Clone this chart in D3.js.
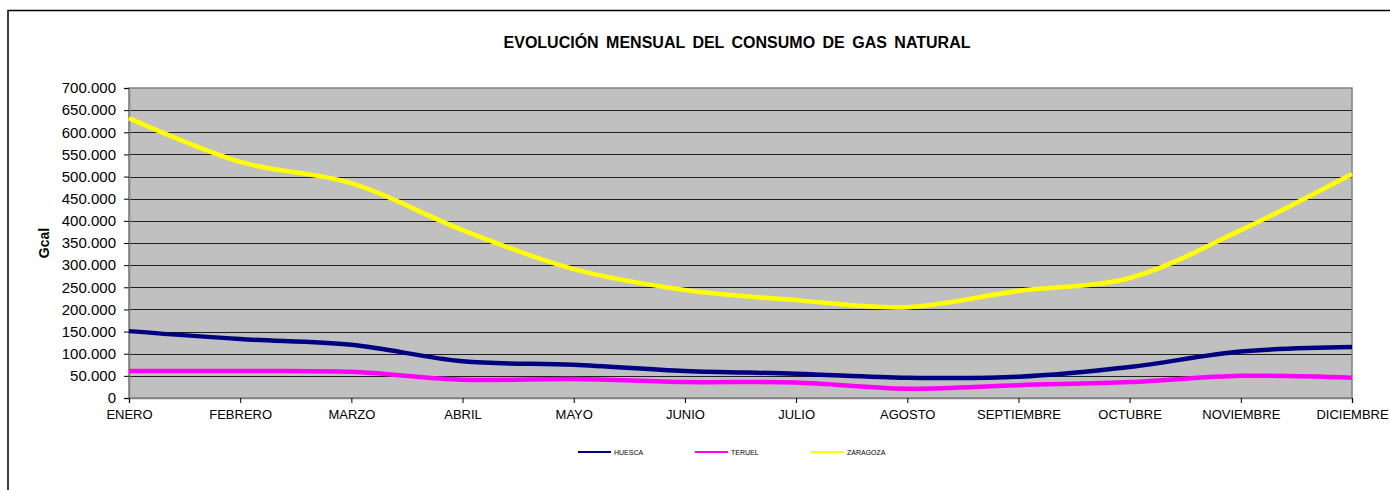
<!DOCTYPE html>
<html>
<head>
<meta charset="utf-8">
<script src="https://cdn.jsdelivr.net/npm/d3@7"></script>
<style>
  body { margin: 0; background: #fff; }
  text { font-family: "Liberation Sans", Arial, sans-serif; }
</style>
</head>
<body>
<div class="chart"></div>
<script>
// Data
var months = ["ENERO", "FEBRERO", "MARZO", "ABRIL", "MAYO", "JUNIO", "JULIO",
  "AGOSTO", "SEPTIEMBRE", "OCTUBRE", "NOVIEMBRE", "DICIEMBRE"];
var huesca = [151000, 133000, 120000, 83000, 75000, 61000, 55000, 46000, 48000, 70000, 105000, 115000];
var teruel = [61000, 61000, 59000, 41000, 43000, 36000, 35000, 21000, 29000, 36000, 50000, 46000];
var zaragoza = [632000, 533000, 485000, 379000, 291000, 244000, 221000, 205000, 242000, 271000, 379000, 506000];
var seriesNames = ["HUESCA", "TERUEL", "ZARAGOZA"];
var yTicks = [0, 50000, 100000, 150000, 200000, 250000, 300000, 350000, 400000, 450000, 500000, 550000, 600000, 650000, 700000];

var colors = ["#000080", "#ff00ff", "#ffff00"];
var allSeries = [huesca, teruel, zaragoza];

var svgWidth = 1390;
var svgHeight = 490;
var margin = { top: 88, right: 38, bottom: 92, left: 129 };
var width = svgWidth - margin.left - margin.right;
var height = svgHeight - margin.top - margin.bottom;

var svg = d3.select(".chart")
  .append("svg")
  .attr("width", svgWidth)
  .attr("height", svgHeight);

// outer frame (clipped at right and bottom)
svg.append("rect")
  .attr("x", 8).attr("y", 10.5)
  .attr("width", 1400).attr("height", 500)
  .attr("fill", "none")
  .attr("stroke", "#000")
  .attr("stroke-width", 1.5);

svg.append("text")
  .attr("x", 737).attr("y", 48)
  .attr("text-anchor", "middle")
  .attr("font-size", "16px")
  .attr("font-weight", "bold")
  .attr("word-spacing", "3px")
  .text("EVOLUCIÓN MENSUAL DEL CONSUMO DE GAS NATURAL");

var chart = svg.append("g")
  .attr("transform", "translate(" + margin.left + "," + margin.top + ")");

var x = d3.scalePoint().domain(months).range([0, width]);
var y = d3.scaleLinear().domain([0, 700000]).range([height, 0]);

chart.append("rect")
  .attr("width", width).attr("height", height)
  .attr("fill", "#c0c0c0");

// gridlines
chart.selectAll(".grid")
  .data(yTicks.slice(1, -1))
  .enter().append("line")
  .attr("x1", 0).attr("x2", width)
  .attr("y1", function(d) { return Math.round(y(d)) + 0.5; })
  .attr("y2", function(d) { return Math.round(y(d)) + 0.5; })
  .attr("stroke", "#202020")
  .attr("stroke-width", 1);

chart.append("rect")
  .attr("width", width).attr("height", height)
  .attr("fill", "none")
  .attr("stroke", "#808080")
  .attr("stroke-width", 1.5);

var fmt = function(d) { return d3.format(",")(d).replace(/,/g, "."); };

var leftAxis = d3.axisLeft(y).tickValues(yTicks).tickFormat(fmt).tickSize(5).tickPadding(8);
var bottomAxis = d3.axisBottom(x).tickSize(5).tickPadding(4);

var gy = chart.append("g").call(leftAxis);
var gx = chart.append("g").attr("transform", "translate(0," + height + ")").call(bottomAxis);
[gy, gx].forEach(function(g) {
  g.select(".domain").attr("stroke", "#808080").attr("stroke-width", 1.5);
  g.selectAll(".tick line").attr("stroke", "#000");
  g.selectAll(".tick text").attr("fill", "#000")
    .attr("font-family", "'Liberation Sans', Arial, sans-serif");
});
gy.selectAll(".tick text").attr("font-size", "15px");
gx.selectAll(".tick text").attr("font-size", "13px").attr("dy", "0.9em");

chart.append("text")
  .attr("transform", "rotate(-90)")
  .attr("x", -(y(350000)))
  .attr("y", -80)
  .attr("text-anchor", "middle")
  .attr("font-size", "14px")
  .attr("font-weight", "bold")
  .text("Gcal");

var line = d3.line()
  .x(function(d, i) { return x(months[i]); })
  .y(function(d) { return y(d); })
  .curve(d3.curveCatmullRom.alpha(0.5));

chart.selectAll(".series")
  .data(allSeries)
  .enter().append("path")
  .attr("d", line)
  .attr("fill", "none")
  .attr("stroke", function(d, i) { return colors[i]; })
  .attr("stroke-width", 4.5)
  .attr("stroke-linejoin", "round");

// legend
var legend = svg.selectAll(".legend")
  .data(seriesNames)
  .enter().append("g")
  .attr("transform", function(d, i) { return "translate(" + [578, 695, 811][i] + ",452)"; });

legend.append("line")
  .attr("x1", 0).attr("x2", 33)
  .attr("stroke", function(d, i) { return colors[i]; })
  .attr("stroke-width", 2);

legend.append("text")
  .attr("x", 36).attr("y", 2.5)
  .attr("font-size", "7px")
  .text(function(d) { return d; });
</script>
</body>
</html>
